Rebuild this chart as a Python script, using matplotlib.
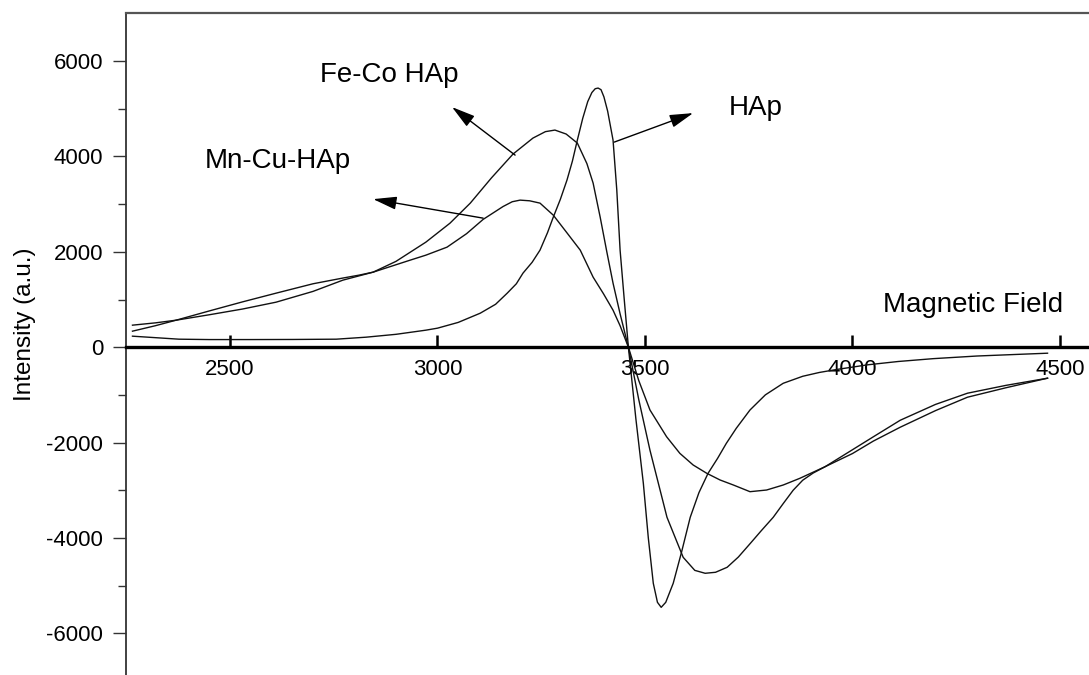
import matplotlib
matplotlib.use("Agg")
import matplotlib.pyplot as plt
from matplotlib.ticker import FixedLocator

plt.rcParams['font.family'] = ['Liberation Sans', 'DejaVu Sans']

# EPR spectra: field (G) vs derivative intensity (a.u.)
hap_field = [2265, 2320, 2377, 2450, 2550, 2650, 2756, 2828, 2900, 2972, 3000, 3050,
             3103, 3140, 3168, 3190, 3206, 3228, 3247, 3265, 3279, 3296, 3312, 3325,
             3337, 3350, 3362, 3372, 3380, 3387, 3394, 3401, 3410, 3423, 3432, 3440,
             3450, 3460, 3478, 3496, 3508, 3520, 3530, 3539, 3550, 3568, 3588, 3609,
             3630, 3652, 3675, 3696, 3720, 3753, 3790, 3833, 3880, 3920, 3960, 4036,
             4110, 4195, 4300, 4400, 4470]
hap_intensity = [231, 200, 168, 160, 160, 162, 168, 210, 270, 357, 399, 520,
                 713, 900, 1133, 1330, 1553, 1780, 2035, 2400, 2727, 3100, 3504, 3900,
                 4343, 4800, 5150, 5340, 5420, 5434, 5400, 5250, 4950, 4343, 3300, 2035,
                 1000, 0, -1500, -2853, -4000, -4951, -5350, -5455, -5350, -4951, -4300, -3567,
                 -3050, -2644, -2330, -2016, -1700, -1317, -1000, -757, -610, -530, -470, -370,
                 -300, -240, -185, -150, -126]

feco_field = [2265, 2320, 2370, 2450, 2530, 2611, 2700, 2772, 2845, 2900, 2972, 3030,
              3079, 3130, 3182, 3230, 3260, 3283, 3310, 3337, 3360, 3375, 3392, 3408,
              3423, 3440, 3460, 3485, 3512, 3553, 3592, 3620, 3645, 3670, 3698, 3725,
              3754, 3780, 3809, 3833, 3857, 3880, 3905, 3934, 4000, 4050, 4115, 4200,
              4277, 4370, 4470]
feco_intensity = [462, 510, 566, 680, 800, 944, 1170, 1406, 1574, 1800, 2203, 2600,
                  3021, 3550, 4050, 4385, 4520, 4553, 4470, 4280, 3850, 3441, 2727, 2000,
                  1343, 700, 0, -1100, -2161, -3567, -4406, -4680, -4741, -4720, -4615, -4400,
                  -4112, -3850, -3567, -3280, -3000, -2790, -2640, -2506, -2150, -1880, -1532, -1200,
                  -965, -800, -650]

mncu_field = [2265, 2320, 2370, 2450, 2530, 2611, 2700, 2772, 2811, 2845, 2934, 2972,
              3023, 3070, 3110, 3158, 3180, 3199, 3222, 3247, 3279, 3310, 3344, 3375,
              3400, 3423, 3440, 3460, 3485, 3512, 3552, 3584, 3616, 3649, 3681, 3713,
              3753, 3793, 3833, 3873, 3934, 4000, 4050, 4115, 4200, 4277, 4370, 4470]
mncu_intensity = [336, 450, 566, 760, 950, 1133, 1330, 1450, 1511, 1574, 1825, 1930,
                  2098, 2380, 2680, 2950, 3050, 3084, 3070, 3021, 2769, 2420, 2035, 1469,
                  1120, 776, 450, 0, -700, -1317, -1877, -2226, -2470, -2645, -2785, -2890,
                  -3030, -2995, -2890, -2750, -2506, -2230, -1970, -1678, -1330, -1049, -850, -650]

x_ticks = [2500, 3000, 3500, 4000, 4500]
y_ticks = [-6000, -4000, -2000, 0, 2000, 4000, 6000]
y_minor_ticks = [-5000, -3000, -1000, 1000, 3000, 5000]

fig = plt.figure(figsize=(10.89, 6.75), dpi=100)
ax = fig.add_axes([126 / 1089, 0, 1 - 126 / 1089, 662 / 675])

line_kw = dict(color='#111111', lw=1.0)
ax.plot(hap_field, hap_intensity, **line_kw)
ax.plot(feco_field, feco_intensity, **line_kw)
ax.plot(mncu_field, mncu_intensity, **line_kw)

ax.set_xlim(2249.4, 4569.9)
ax.set_ylim(-6874, 7008)

# spines: x axis through zero, left and top frame lines
ax.spines['bottom'].set_position(('data', 0))
ax.spines['bottom'].set_linewidth(2.4)
ax.spines['bottom'].set_color('black')
ax.spines['right'].set_visible(False)
ax.spines['left'].set_linewidth(1.3)
ax.spines['left'].set_color('#333333')
ax.spines['top'].set_linewidth(1.6)
ax.spines['top'].set_color('#555555')

ax.set_xticks(x_ticks)
ax.set_xticklabels([str(v) for v in x_ticks])
ax.set_yticks(y_ticks)
ax.set_yticklabels([str(v) for v in y_ticks])
ax.yaxis.set_minor_locator(FixedLocator(y_minor_ticks))

ax.tick_params(axis='x', which='major', direction='in', length=8.6, width=1.8,
               pad=8.5, labelsize=16, color='black')
ax.tick_params(axis='y', which='major', direction='out', length=9.4, width=1.0,
               pad=7, labelsize=16, color='#333333')
ax.tick_params(axis='y', which='minor', direction='out', length=5.8, width=1.0,
               color='#333333')

fig.text(25 / 1089, 1 - 324 / 675, 'Intensity (a.u.)', rotation=90,
         ha='center', va='center', fontsize=17.5)

text_kw = dict(fontsize=20, ha='left', va='baseline')
ax.text(2717, 5560, 'Fe-Co HAp', **text_kw)
ax.text(2440, 3755, 'Mn-Cu-HAp', **text_kw)
ax.text(3703, 4867, 'HAp', **text_kw)
ax.text(4074, 734, 'Magnetic Field', **text_kw)

arrow_kw = dict(arrowstyle='-|>,head_length=0.9,head_width=0.25',
                color='black', lw=1.0, mutation_scale=16,
                shrinkA=0, shrinkB=0)
ax.annotate('', xy=(3035, 5035), xytext=(3187, 4028), arrowprops=arrow_kw)
ax.annotate('', xy=(3616, 4909), xytext=(3426, 4301), arrowprops=arrow_kw)
ax.annotate('', xy=(2845, 3105), xytext=(3110, 2706), arrowprops=arrow_kw)

fig.savefig('out.png', dpi=100)
